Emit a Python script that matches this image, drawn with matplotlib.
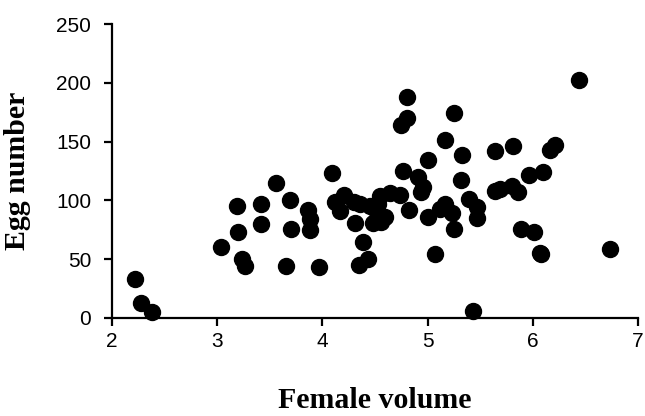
import matplotlib
matplotlib.use('Agg')
import matplotlib.pyplot as plt

# female volume vs egg number
female_volume = [2.22, 2.28, 2.38, 3.04, 3.19, 3.20, 3.24, 3.26, 3.42, 3.42,
                 3.56, 3.65, 3.69, 3.70, 3.86, 3.88, 3.88, 3.97, 4.09, 4.12,
                 4.21, 4.17, 4.31, 4.39, 4.43, 4.35, 4.30, 4.36, 4.45, 4.52,
                 4.55, 4.56, 4.48, 4.60, 4.64, 4.74, 4.82, 4.53, 4.75, 4.80,
                 4.80, 4.77, 4.91, 4.96, 4.94, 5.00, 5.00, 5.07, 5.12, 5.17,
                 5.17, 5.23, 5.25, 5.25, 5.33, 5.32, 5.39, 5.47, 5.47, 5.43,
                 5.64, 5.64, 5.69, 5.80, 5.86, 5.81, 5.89, 5.96, 6.01, 6.07,
                 6.08, 6.10, 6.16, 6.21, 6.44, 6.73]
egg_number = [33, 13, 5, 60, 95, 73, 50, 44, 97, 80,
              115, 44, 100, 76, 92, 84, 75, 43, 123, 99,
              105, 91, 81, 65, 50, 45, 99, 97, 95, 90,
              104, 82, 81, 86, 106, 105, 92, 97, 164, 170,
              188, 125, 120, 111, 107, 134, 86, 54, 93, 97,
              151, 89, 76, 174, 139, 117, 101, 94, 85, 6,
              142, 108, 110, 112, 107, 146, 76, 122, 73, 55,
              54, 124, 143, 147, 202, 59]

x_ticks = [2, 3, 4, 5, 6, 7]
y_ticks = [0, 50, 100, 150, 200, 250]

fig = plt.figure(figsize=(6.45, 4.16), dpi=100)
ax = fig.add_axes([0.1736, 0.2356, 0.8155, 0.7067])

ax.plot(female_volume, egg_number, 'o', color='black', markersize=11.5,
        linestyle='none', clip_on=False)

ax.set_xlim(2, 7)
ax.set_ylim(0, 250)
ax.set_xticks(x_ticks)
ax.set_yticks(y_ticks)

for side in ['top', 'right']:
    ax.spines[side].set_visible(False)
for side in ['left', 'bottom']:
    ax.spines[side].set_linewidth(1.6)

ax.tick_params(direction='out', length=6, width=1.6, labelsize=15)
ax.tick_params(axis='y', pad=9)
ax.tick_params(axis='x', pad=4)
for lbl in ax.get_xticklabels() + ax.get_yticklabels():
    lbl.set_fontfamily('Liberation Sans')

ax.set_xlabel('Female volume', fontsize=21.5, fontweight='bold', family='Liberation Serif')
ax.set_ylabel('Egg number', fontsize=21.5, fontweight='bold', family='Liberation Serif')
ax.xaxis.set_label_coords(0.5, -0.28)
ax.xaxis.label.set_va('center')
ax.yaxis.set_label_coords(-0.179, 0.5)
ax.yaxis.label.set_va('center')

fig.savefig('out.png', dpi=100)
